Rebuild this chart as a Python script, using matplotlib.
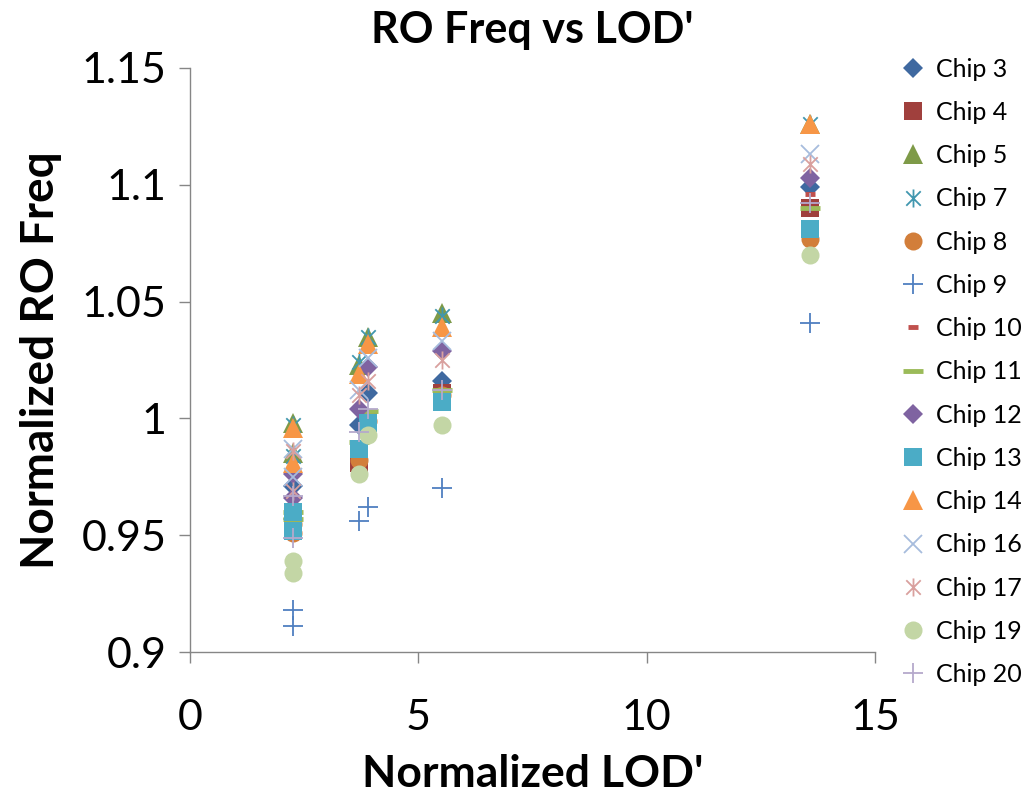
import matplotlib
matplotlib.use("Agg")
import matplotlib.pyplot as plt
from matplotlib.path import Path

plt.rcParams['font.family'] = ['Lato', 'DejaVu Sans']

# Normalized LOD' positions shared by every chip (two samples at the first node)
lod = [2.25, 2.25, 3.70, 3.90, 5.52, 13.58]

chip3 = [0.971, 0.957, 0.997, 1.011, 1.016, 1.099]
chip4 = [0.953, 0.958, 0.981, 0.999, 1.011, 1.090]
chip5 = [0.998, 0.985, 1.023, 1.035, 1.045, 1.126]
chip7 = [0.997, 0.984, 1.024, 1.035, 1.044, 1.126]
chip8 = [0.955, 0.951, 0.982, 0.999, 1.010, 1.077]
chip9 = [0.918, 0.911, 0.956, 0.962, 0.970, 1.041]
chip10 = [0.960, 0.955, 0.990, 1.002, 1.012, 1.096]
chip11 = [0.960, 0.957, 0.990, 1.003, 1.012, 1.090]
chip12 = [0.976, 0.966, 1.004, 1.022, 1.029, 1.103]
chip13 = [0.960, 0.952, 0.987, 0.998, 1.007, 1.081]
chip14 = [0.996, 0.981, 1.019, 1.032, 1.039, 1.126]
chip16 = [0.987, 0.975, 1.012, 1.026, 1.033, 1.113]
chip17 = [0.986, 0.969, 1.010, 1.016, 1.025, 1.109]
chip19 = [0.939, 0.934, 0.976, 0.993, 0.997, 1.070]
chip20 = [0.967, 0.949, 0.994, 1.004, 1.012, 1.092]

labels = ["Chip 3", "Chip 4", "Chip 5", "Chip 7", "Chip 8", "Chip 9", "Chip 10",
          "Chip 11", "Chip 12", "Chip 13", "Chip 14", "Chip 16", "Chip 17",
          "Chip 19", "Chip 20"]
values = [chip3, chip4, chip5, chip7, chip8, chip9, chip10, chip11, chip12,
          chip13, chip14, chip16, chip17, chip19, chip20]

# Asterisk-style marker: an "x" crossed by a vertical stroke
star_path = Path(
    [(-1, -1), (1, 1), (-1, 1), (1, -1), (0, -1.25), (0, 1.25)],
    [Path.MOVETO, Path.LINETO, Path.MOVETO, Path.LINETO, Path.MOVETO, Path.LINETO],
)

styles = [
    dict(marker='D', color='#3F69A0', ms=10, filled=True),
    dict(marker='s', color='#A0403D', ms=13, filled=True),
    dict(marker='^', color='#7E9A48', ms=14, filled=True),
    dict(marker=star_path, color='#4197AF', ms=13, filled=False, mew=1.3),
    dict(marker='o', color='#D27E3A', ms=13, filled=True),
    dict(marker='+', color='#4F7FC0', ms=14, filled=False, mew=1.3),
    dict(marker='_', color='#C0504D', ms=7, filled=False, mew=3.5),
    dict(marker='_', color='#9BBB59', ms=14, filled=False, mew=3.5),
    dict(marker='D', color='#7F63A1', ms=10, filled=True),
    dict(marker='s', color='#4BACC6', ms=13, filled=True),
    dict(marker='^', color='#F79646', ms=14, filled=True),
    dict(marker='x', color='#A7BCDD', ms=13, filled=False, mew=1.3),
    dict(marker=star_path, color='#D9A09E', ms=13, filled=False, mew=1.3),
    dict(marker='o', color='#C3D6A5', ms=13, filled=True),
    dict(marker='+', color='#B5A9CC', ms=14, filled=False, mew=1.3),
]

fig = plt.figure(figsize=(10.29, 7.94), dpi=100)
ax = fig.add_axes([0.1846, 0.1788, 0.8503 - 0.1846, 0.9144 - 0.1788])

handles = []
for label, ys, st in zip(labels, values, styles):
    kw = dict(linestyle='none', marker=st['marker'], markersize=st['ms'])
    if st['filled']:
        kw.update(markerfacecolor=st['color'], markeredgecolor=st['color'], markeredgewidth=0)
    else:
        kw.update(markerfacecolor='none', markeredgecolor=st['color'],
                  markeredgewidth=st.get('mew', 1.3))
    line, = ax.plot(lod, ys, label=label, **kw)
    handles.append(line)

ax.set_xlim(0, 15)
ax.set_ylim(0.9, 1.15)
ax.set_xticks([0, 5, 10, 15])
ax.set_xticklabels(['0', '5', '10', '15'])
ax.set_yticks([0.9, 0.95, 1.0, 1.05, 1.1, 1.15])
ax.set_yticklabels(['0.9', '0.95', '1', '1.05', '1.1', '1.15'])

for side in ('top', 'right'):
    ax.spines[side].set_visible(False)
for side in ('left', 'bottom'):
    ax.spines[side].set_color('#868686')
    ax.spines[side].set_linewidth(1.0)
ax.tick_params(axis='both', direction='out', length=8, width=1.0, color='#868686',
               labelsize=31, labelcolor='black')
ax.tick_params(axis='x', pad=26)
ax.tick_params(axis='y', pad=9)

ax.set_xlabel("Normalized LOD'", fontsize=32, fontweight='bold', labelpad=12)
ax.set_ylabel("Normalized RO Freq", fontsize=33, fontweight='bold', labelpad=14)
ax.set_title("RO Freq vs LOD'", fontsize=31, fontweight='bold', pad=18)

leg = ax.legend(handles=handles, loc='upper left', bbox_to_anchor=(1.025, 1.035),
                frameon=False, fontsize=18, labelspacing=0.81, handlelength=0.9,
                handletextpad=0.45, borderaxespad=0)

fig.savefig('out.png', dpi=100)
